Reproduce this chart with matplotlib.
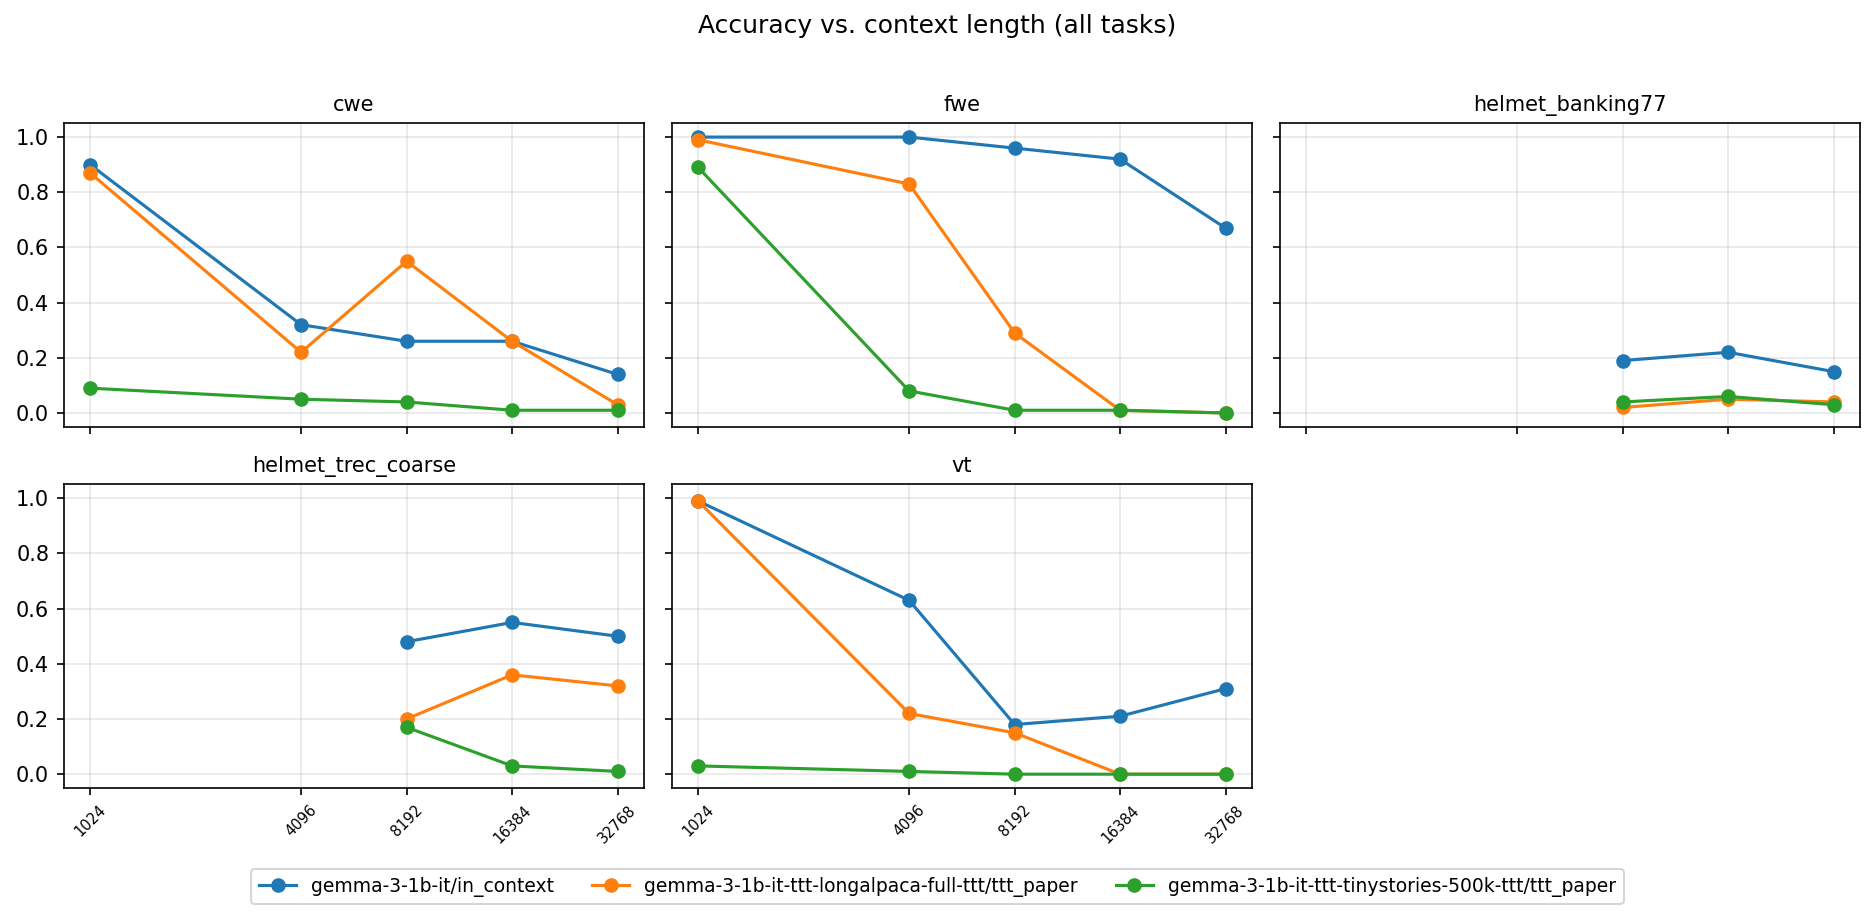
import matplotlib
matplotlib.use("Agg")
import matplotlib.pyplot as plt
from matplotlib.ticker import NullLocator, FixedLocator, FixedFormatter

tasks = ["cwe", "fwe", "helmet_banking77", "helmet_trec_coarse", "vt"]
series_names = [
    "gemma-3-1b-it/in_context",
    "gemma-3-1b-it-ttt-longalpaca-full-ttt/ttt_paper",
    "gemma-3-1b-it-ttt-tinystories-500k-ttt/ttt_paper",
]
ctx_full = [1024, 4096, 8192, 16384, 32768]
ctx_helmet = [8192, 16384, 32768]
tick_labels = ["1024", "4096", "8192", "16384", "32768"]

cwe_in_context = [0.90, 0.32, 0.26, 0.26, 0.14]
cwe_longalpaca = [0.87, 0.22, 0.55, 0.26, 0.03]
cwe_tinystories = [0.09, 0.05, 0.04, 0.01, 0.01]

fwe_in_context = [1.00, 1.00, 0.96, 0.92, 0.67]
fwe_longalpaca = [0.99, 0.83, 0.29, 0.01, 0.00]
fwe_tinystories = [0.89, 0.08, 0.01, 0.01, 0.00]

banking_in_context = [0.19, 0.22, 0.15]
banking_longalpaca = [0.02, 0.05, 0.04]
banking_tinystories = [0.04, 0.06, 0.03]

trec_in_context = [0.48, 0.55, 0.50]
trec_longalpaca = [0.20, 0.36, 0.32]
trec_tinystories = [0.17, 0.03, 0.01]

vt_in_context = [0.99, 0.63, 0.18, 0.21, 0.31]
vt_longalpaca = [0.99, 0.22, 0.15, 0.00, 0.00]
vt_tinystories = [0.03, 0.01, 0.00, 0.00, 0.00]

task_data = {
    "cwe": (ctx_full, [cwe_in_context, cwe_longalpaca, cwe_tinystories]),
    "fwe": (ctx_full, [fwe_in_context, fwe_longalpaca, fwe_tinystories]),
    "helmet_banking77": (ctx_helmet, [banking_in_context, banking_longalpaca, banking_tinystories]),
    "helmet_trec_coarse": (ctx_helmet, [trec_in_context, trec_longalpaca, trec_tinystories]),
    "vt": (ctx_full, [vt_in_context, vt_longalpaca, vt_tinystories]),
}
colors = ["#1f77b4", "#ff7f0e", "#2ca02c"]

DPI = 150
fig, axes = plt.subplots(2, 3, figsize=(1875 / DPI, 920 / DPI), dpi=DPI, sharex=True, sharey=True)
fig.subplots_adjust(left=0.034, right=0.992, top=0.866, bottom=0.1435, wspace=0.048, hspace=0.19)
axs = axes.flatten()

handles = []
for i, task in enumerate(tasks):
    ax = axs[i]
    xs, ys_list = task_data[task]
    for j, ys in enumerate(ys_list):
        h, = ax.plot(xs, ys, marker="o", color=colors[j], label=series_names[j])
        if i == 0:
            handles.append(h)
    ax.set_xscale("log", base=2)
    ax.set_title(task, fontsize=10)
    ax.grid(True, alpha=0.3)

axs[5].remove()
for ax in axs[:5]:
    ax.xaxis.set_major_locator(FixedLocator(ctx_full))
    ax.xaxis.set_major_formatter(FixedFormatter(tick_labels))
    ax.xaxis.set_minor_locator(NullLocator())
for ax in (axs[3], axs[4]):
    ax.tick_params(axis="x", labelsize=7, labelrotation=45, labelbottom=True)
axs[2].tick_params(axis="x", labelbottom=False)

fig.suptitle("Accuracy vs. context length (all tasks)", fontsize=12, y=0.985)
fig.legend(handles, series_names, loc="lower center", ncol=3, bbox_to_anchor=(0.5, 0.007), fontsize=9)

fig.savefig("out.png", dpi=DPI)
